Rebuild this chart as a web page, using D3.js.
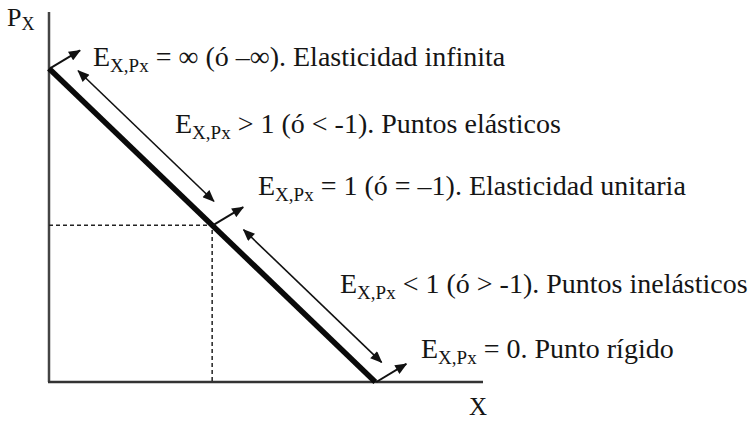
<!DOCTYPE html>
<html>
<head>
<meta charset="utf-8">
<script src="https://cdn.jsdelivr.net/npm/d3@7"></script>
<style>
  html, body { margin: 0; padding: 0; background: #fff; }
  svg { display: block; }
  text { font-family: "Liberation Serif", "Times New Roman", serif; fill: #151515; }
</style>
</head>
<body>
<script>
// Linear demand curve: price intercept and quantity intercept
const demandQuantity = [0, 10];
const demandPrice = [10, 0];
// Unit-elastic point (midpoint of the curve)
const midQuantity = [5];
const midPrice = [5];
// Axis extents (data units)
const quantityMax = [13.3];
const priceMax = [11.8];
// Axis titles
const axisTitles = ["P", "X"];
// Elasticity annotations: relation + description
const elasticityRelation = ["= \u221E (\u00F3 \u2013\u221E). Elasticidad infinita",
                            "> 1 (\u00F3 < -1). Puntos el\u00E1sticos",
                            "= 1 (\u00F3 = \u20131). Elasticidad unitaria",
                            "< 1 (\u00F3 > -1). Puntos inel\u00E1sticos",
                            "= 0. Punto r\u00EDgido"];
// Where on the curve each annotation points (share of the curve length, 0 = top, 1 = bottom)
const pointShare = [0, 0.5, 1];          // single arrows
const rangeShare = [[0.05, 0.466], [0.557, 0.98]]; // double arrows along the curve

const W = 748, H = 421;
const origin = { x: 49, y: 382 };

const x = d3.scaleLinear().domain([0, quantityMax[0]]).range([origin.x, 483]);
const y = d3.scaleLinear().domain([0, priceMax[0]]).range([origin.y, 12]);

const svg = d3.select("body").append("svg").attr("width", W).attr("height", H);

const defs = svg.append("defs");
defs.append("marker")
  .attr("id", "head")
  .attr("viewBox", "0 0 12 10")
  .attr("refX", 11).attr("refY", 5)
  .attr("markerUnits", "userSpaceOnUse")
  .attr("markerWidth", 13).attr("markerHeight", 10)
  .attr("orient", "auto-start-reverse")
  .append("path").attr("d", "M0,0 L12,5 L0,10 Z").attr("fill", "#111");

// Axes
svg.append("line")
  .attr("x1", x(0)).attr("y1", y(0)).attr("x2", x(0)).attr("y2", y(priceMax[0]))
  .attr("stroke", "#444").attr("stroke-width", 2.5);
svg.append("line")
  .attr("x1", x(0) - 1).attr("y1", y(0)).attr("x2", x(quantityMax[0])).attr("y2", y(0))
  .attr("stroke", "#333").attr("stroke-width", 2.5);

// Dashed guides to the unit-elastic point
svg.append("path")
  .attr("d", `M${x(0)},${y(midPrice[0])} H${x(midQuantity[0])} V${y(0)}`)
  .attr("fill", "none").attr("stroke", "#222").attr("stroke-width", 1.5)
  .attr("stroke-dasharray", "4,3");

// Demand curve
const demand = demandQuantity.map((q, i) => [x(q), y(demandPrice[i])]);
svg.append("line")
  .attr("x1", demand[0][0]).attr("y1", demand[0][1])
  .attr("x2", demand[1][0]).attr("y2", demand[1][1])
  .attr("stroke", "#0a0a0a").attr("stroke-width", 5.5);

// Geometry along the curve
const dx = demand[1][0] - demand[0][0], dy = demand[1][1] - demand[0][1];
const len = Math.hypot(dx, dy);
const px = dy / len, py = -dx / len;      // perpendicular, up-right side
const along = t => [demand[0][0] + dx * t, demand[0][1] + dy * t];

// Single arrows leaving the curve at the three key points
const tilt = -31 * Math.PI / 180, arrowLen = 35;
pointShare.forEach(t => {
  const [sx, sy] = along(t);
  svg.append("line")
    .attr("x1", sx + 1).attr("y1", sy)
    .attr("x2", sx + 1 + arrowLen * Math.cos(tilt)).attr("y2", sy + arrowLen * Math.sin(tilt))
    .attr("stroke", "#111").attr("stroke-width", 2)
    .attr("marker-end", "url(#head)");
});

// Double arrows parallel to the curve
const offset = 18.5;
rangeShare.forEach(([a, b]) => {
  const [ax, ay] = along(a), [bx, by] = along(b);
  svg.append("line")
    .attr("x1", ax + px * offset).attr("y1", ay + py * offset)
    .attr("x2", bx + px * offset).attr("y2", by + py * offset)
    .attr("stroke", "#111").attr("stroke-width", 1.6)
    .attr("marker-start", "url(#head)")
    .attr("marker-end", "url(#head)");
});

// Annotation text
const labelPos = [[93, 66], [175, 133], [258, 195], [340, 293], [421, 358]];
elasticityRelation.forEach((txt, i) => {
  const t = svg.append("text")
    .attr("x", labelPos[i][0]).attr("y", labelPos[i][1])
    .attr("font-size", 28)
    .attr("xml:space", "preserve");
  t.append("tspan").text("E");
  t.append("tspan").attr("font-size", 19).attr("dy", 6).text("X,Px");
  t.append("tspan").attr("dy", -6).text(" " + txt);
});

// Axis titles
const py0 = svg.append("text").attr("x", 7).attr("y", 26).attr("font-size", 26);
py0.append("tspan").text(axisTitles[0]);
py0.append("tspan").attr("font-size", 18).attr("dy", 4).text("X");

svg.append("text")
  .attr("x", 469).attr("y", 415)
  .attr("font-size", 25)
  .text(axisTitles[1]);
</script>
</body>
</html>
